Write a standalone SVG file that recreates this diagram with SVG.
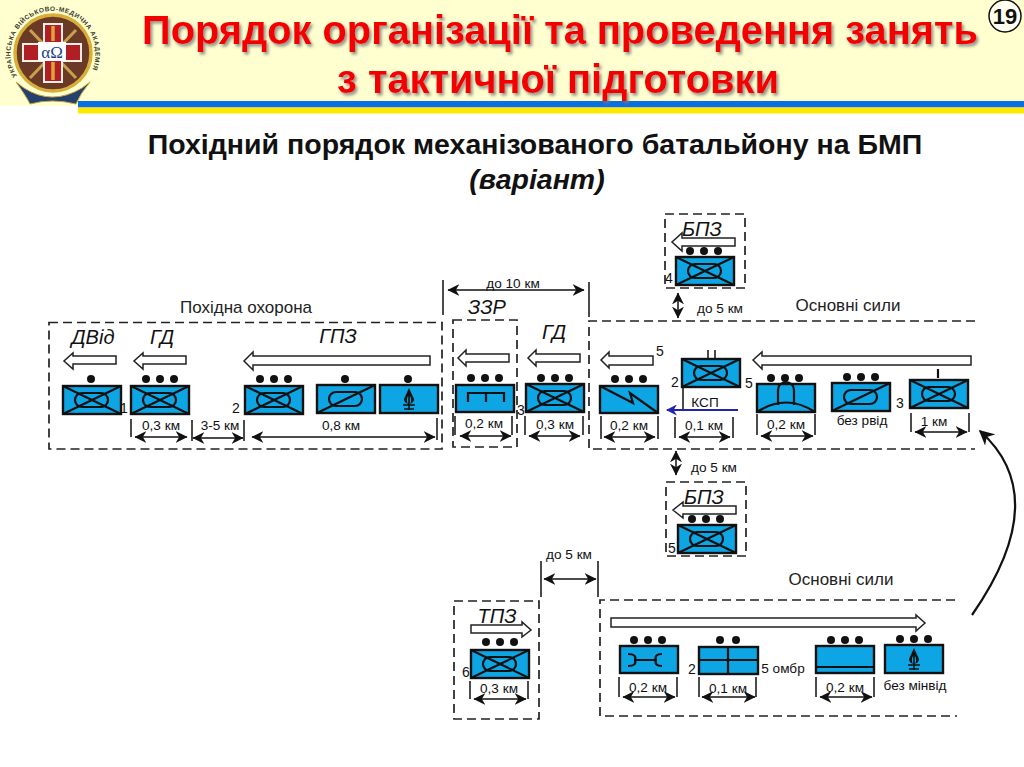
<svg xmlns="http://www.w3.org/2000/svg" width="1024" height="767" viewBox="0 0 1024 767">
<style>
text{font-family:"Liberation Sans",Arial,sans-serif;fill:#111}
.t{font-size:13.6px;text-anchor:middle}
.o{font-size:17px;text-anchor:middle;fill:#222}
.n{font-size:14px;text-anchor:middle}
.h{font-size:20px;font-style:italic;text-anchor:middle}
.b{fill:#0ea5e4;stroke:#111;stroke-width:2.4}
.l{fill:none;stroke:#111;stroke-width:2.200}
.f{fill:none;stroke:#222;stroke-width:1.700;stroke-dasharray:9 5}
.d{fill:none;stroke:#111;stroke-width:1.500}
.a{fill:#fff;stroke:#222;stroke-width:1.500}
.dim{fill:none;stroke:#111;stroke-width:1.500;marker-start:url(#ahs);marker-end:url(#ah)}
.title{font-size:39.800px;font-weight:bold;fill:#f40000;text-anchor:middle;filter:url(#sh)}
.sub{font-size:28.500px;font-weight:bold;text-anchor:middle}
</style>
<defs>
<filter id="sh" x="-5%" y="-20%" width="110%" height="150%"><feDropShadow dx="2" dy="2.500" stdDeviation="1.500" flood-color="#777" flood-opacity=".8"/></filter>
<marker id="ah" viewBox="0 0 10 10" refX="9.500" refY="5" markerWidth="12" markerHeight="12" markerUnits="userSpaceOnUse" orient="auto"><path d="M0 0 10 5 0 10 3 5z" fill="#111"/></marker>
<marker id="ahs" viewBox="0 0 10 10" refX=".5" refY="5" markerWidth="12" markerHeight="12" markerUnits="userSpaceOnUse" orient="auto"><path d="M10 0 0 5 10 10 7 5z" fill="#111"/></marker>
<marker id="ab" viewBox="0 0 10 10" refX="9" refY="5" markerWidth="11" markerHeight="11" markerUnits="userSpaceOnUse" orient="auto"><path d="M0 0 10 5 0 10 3 5z" fill="#2222aa"/></marker>
<marker id="ac" viewBox="0 0 10 10" refX="9" refY="5" markerWidth="15" markerHeight="15" markerUnits="userSpaceOnUse" orient="auto"><path d="M0 0 10 5 0 10 3 5z" fill="#111"/></marker>
<circle id="dot" r="4" fill="#111"/>
<g id="d3"><use href="#dot" x="15"/><use href="#dot" x="29"/><use href="#dot" x="43"/></g>
<g id="xx"><rect class="b" width="58" height="28"/><path class="l" d="M0 0 58 28M58 0 0 28"/><rect class="l" x="12" y="7" width="33" height="14" rx="7"/></g>
<g id="sl"><rect class="b" width="58" height="28"/><path class="l" d="M0 28 58 0"/><rect class="l" x="12" y="7" width="33" height="14" rx="7"/></g>
<g id="mo"><rect class="b" width="58" height="28"/><path d="M29 3 24 14a5 5 0 1 0 10 0z" fill="#111"/><ellipse cx="29" cy="15" rx="2" ry="4" fill="#0ea5e4"/><path class="l" d="M29 5V25M23 20H35M24 24H34" style="stroke-width:1.600"/></g>
</defs>

<g id="header">
<rect width="1024" height="101" fill="#ffffcf"/>
<rect y="101" width="78" height="5" fill="#ffffcf"/>
<rect x="78" y="101" width="946" height="6.500" fill="#0a6fe0"/>
<rect x="78" y="107.500" width="946" height="6" fill="#ffe800"/>
</g>
<g id="logo">
<path d="M16 82Q26 96 30 104Q52 98 76 104Q80 94 90 82L82 88Q52 106 24 88Z" fill="#24406e" stroke="#c9a83a"/>
<circle cx="53" cy="53" r="38" fill="#6b3a26" stroke="#d8ae3a" stroke-width="3.500"/>
<path id="ring" d="M17 76A42.500 42.500 0 1 1 89 76" fill="none"/>
<text font-size="6.500" font-weight="bold" letter-spacing=".55" style="fill:#3a3a30"><textPath href="#ring">УКРАЇНСЬКА ВІЙСЬКОВО-МЕДИЧНА АКАДЕМІЯ</textPath></text>
<path d="M30 30 76 78M76 30 30 78" stroke="#c9a050" stroke-width="3"/>
<path d="M43 23H63V43H82V62H63V83H43V62H22V43H43Z" fill="#f4f0e6"/>
<path d="M45 25H61V45H80V60H61V81H45V60H24V45H45Z" fill="#b11f24"/>
<rect x="38" y="42" width="28" height="19" fill="#fff"/>
<path d="M53 26V41M53 62V80" stroke="#d9a63a" stroke-width="3.500"/>
<text x="52" y="58" font-size="17" text-anchor="middle" style="font-family:'Liberation Serif',serif;fill:#1d3f8a">αΩ</text>
</g>
<g id="page-number"><circle cx="1005" cy="16" r="16" fill="#fffff0" stroke="#111" stroke-width="1.500"/><text x="1005" y="24" font-size="22" font-weight="bold" text-anchor="middle">19</text></g>
<text class="title" x="560" y="44">Порядок організації та проведення занять</text>
<text class="title" x="558" y="93">з тактичної підготовки</text>
<text class="sub" x="535" y="154">Похідний порядок механізованого батальйону на БМП</text>
<text class="sub" x="537" y="189" font-style="italic">(варіант)</text>

<g id="frames">
<rect class="f" x="49" y="322.500" width="393" height="126.500"/>
<rect class="f" x="453" y="320" width="64" height="127"/>
<path class="f" d="M975 321H589V449H975"/>
<rect class="f" x="665" y="214" width="80" height="74"/>
<rect class="f" x="666" y="482" width="80" height="74"/>
<rect class="f" x="454" y="601" width="85" height="118"/>
<path class="f" d="M955 600H600V716H957"/>
</g>
<text class="o" x="246" y="313">Похідна охорона</text>
<text class="o" x="848" y="311">Основні сили</text>
<text class="o" x="841" y="585">Основні сили</text>

<g id="direction-arrows">
<path class="a" d="M116 356H73V353L64 361 73 369V364H116Z"/>
<path class="a" d="M186 356H143V353L134 361 143 369V364H186Z"/>
<path class="a" d="M430 356H253V352L244 361 253 370V365H430Z"/>
<path class="a" d="M509 354H466V350L458 358 466 366V362H509Z"/>
<path class="a" d="M580 354H536V350L528 358 536 366V362H580Z"/>
<path class="a" d="M653 356H609V352L601 360 609 368V365H653Z"/>
<path class="a" d="M971 356H762V352L753 360 762 369V365H971Z"/>
<path class="a" d="M735 238H682V233L672 242 682 251V246H735Z"/>
<path class="a" d="M736 506H683V502L673 510 683 518V514H736Z"/>
<path class="a" d="M471 625H522V622L531 630 522 637V633H471Z"/>
<path class="a" d="M611 618H916V615L925 623 916 631V627H611Z"/>
</g>

<g id="n1"><use href="#dot" x="91" y="379"/><use href="#xx" x="63" y="386"/></g>
<g id="n2"><use href="#d3" x="131" y="379"/><use href="#xx" x="131" y="386"/></g>
<g id="n3"><use href="#d3" x="245" y="379"/><use href="#xx" x="245" y="386"/></g>
<g id="n4"><use href="#dot" x="345" y="379"/><use href="#sl" x="317" y="385"/></g>
<g id="n5"><use href="#dot" x="408" y="379"/><use href="#mo" x="380" y="385"/></g>
<g id="n6"><use href="#d3" x="456" y="378"/><rect class="b" x="456" y="385" width="58" height="27"/><path class="l" d="M468 402V393H504V402M486 393V402"/></g>
<g id="n7"><use href="#d3" x="526" y="378"/><use href="#xx" x="526" y="384"/></g>
<g id="n8"><use href="#d3" x="600" y="379"/><rect class="b" x="600" y="386" width="58" height="27"/><path class="l" d="M600 386 633 403 630 393 658 413"/></g>
<g id="n9"><path class="d" d="M708 350V359M715 350V359M683 387V410"/><use href="#xx" x="682" y="359"/></g>
<g id="n10"><use href="#d3" x="756" y="378"/><rect class="b" x="757" y="384" width="58" height="28"/><path class="l" d="M757 412Q786 393 815 412M778 405V390a8 8 0 0 1 16 0V405"/></g>
<g id="n11"><use href="#d3" x="832" y="377"/><use href="#sl" x="832" y="383"/></g>
<g id="n12"><path class="l" d="M938 369V378"/><use href="#xx" x="910" y="380"/></g>
<g id="n13"><use href="#d3" x="675" y="251"/><use href="#xx" x="676" y="257"/></g>
<g id="n14"><use href="#d3" x="677" y="519"/><use href="#xx" x="678" y="525"/></g>
<g id="n15"><use href="#d3" x="471" y="642"/><use href="#xx" x="471" y="650"/></g>
<g id="n16"><use href="#d3" x="619" y="640"/><rect class="b" x="620" y="646" width="58" height="27"/><path class="l" d="M628 654Q637 654 635 660Q637 666 628 666M635 660H656M662 654Q654 654 656 660Q654 666 662 666"/></g>
<g id="n17"><use href="#dot" x="720" y="640"/><use href="#dot" x="736" y="640"/><rect class="b" x="699" y="647" width="59" height="27"/><path class="l" d="M699 660H758M728 647V674"/></g>
<g id="n18"><use href="#d3" x="816" y="640"/><rect class="b" x="816" y="646" width="58" height="27"/><path class="l" d="M816 667H874"/></g>
<g id="n19"><use href="#d3" x="885" y="639"/><use href="#mo" x="885" y="645"/></g>

<g id="connectors">
<path class="d" d="M131 419V437M192 420V441M244 420V441M437 418V440M443 280V315M589 282V317M455 416V435M512 416V435M525 416V435M583 416V435M601 416V439M658 416V439M675 417V438M733 417V438M757 414V435M815 414V435M911 413V432M969 413V432M541 561V597M598 561V597M470 681V699M528 681V699M619 677V697M677 677V697M699 677V697M756 677V697M816 677V697M874 677V697"/>
<path class="dim" d="M135 437H187"/><path class="dim" d="M193 438H243"/><path class="dim" d="M252 437H435"/><path class="dim" d="M448 290H584"/><path class="dim" d="M460 436H511"/><path class="dim" d="M529 436H580"/><path class="dim" d="M604 437H655"/><path class="dim" d="M679 437H730"/><path class="dim" d="M761 436H813"/><path class="dim" d="M915 432H967"/><path class="dim" d="M544 579H596"/><path class="dim" d="M474 699H526"/><path class="dim" d="M623 697H675"/><path class="dim" d="M702 697H755"/><path class="dim" d="M820 697H872"/><path class="dim" d="M678 293V318"/><path class="dim" d="M676 451V475"/>
<path d="M738 410H667" fill="none" stroke="#2222aa" stroke-width="1.800" marker-end="url(#ab)"/>
<path d="M972 615Q1054 497 980 431" fill="none" stroke="#111" stroke-width="2.200" marker-end="url(#ac)"/>
</g>

<g id="labels">
<text class="h" x="93" y="344">ДВід</text><text class="h" x="162" y="344">ГД</text><text class="h" x="338" y="343">ГПЗ</text>
<text class="h" x="487" y="314">ЗЗР</text><text class="h" x="554" y="339">ГД</text>
<text class="h" x="702" y="236">БПЗ</text><text class="h" x="704" y="504">БПЗ</text><text class="h" x="497" y="623">ТПЗ</text>
<text class="n" x="124" y="413">1</text><text class="n" x="236" y="413">2</text><text class="n" x="521" y="415">3</text><text class="n" x="660" y="356">5</text><text class="n" x="675" y="387">2</text><text class="n" x="749" y="388">5</text><text class="n" x="900" y="408">3</text><text class="n" x="669" y="283">4</text><text class="n" x="672" y="553">5</text><text class="n" x="466" y="677">6</text><text class="n" x="692" y="674">2</text>
<text class="t" x="161" y="430">0,3 км</text><text class="t" x="220" y="430">3-5 км</text><text class="t" x="341" y="430">0,8 км</text>
<text class="t" x="484" y="428">0,2 км</text><text class="t" x="555" y="429">0,3 км</text><text class="t" x="629" y="430">0,2 км</text><text class="t" x="704" y="430">0,1 км</text><text class="t" x="786" y="429">0,2 км</text><text class="t" x="934" y="426">1 км</text>
<text class="t" x="513" y="288">до 10 км</text><text class="t" x="720" y="313">до 5 км</text><text class="t" x="714" y="472">до 5 км</text><text class="t" x="569" y="559">до 5 км</text>
<text class="t" x="705" y="407">КСП</text><text class="t" x="862" y="425">без рвід</text>
<text class="t" x="499" y="693">0,3 км</text><text class="t" x="648" y="692">0,2 км</text><text class="t" x="728" y="693">0,1 км</text><text class="t" x="845" y="692">0,2 км</text><text class="t" x="783" y="673">5 омбр</text><text class="t" x="915" y="690">без мінвід</text>
</g>
</svg>
